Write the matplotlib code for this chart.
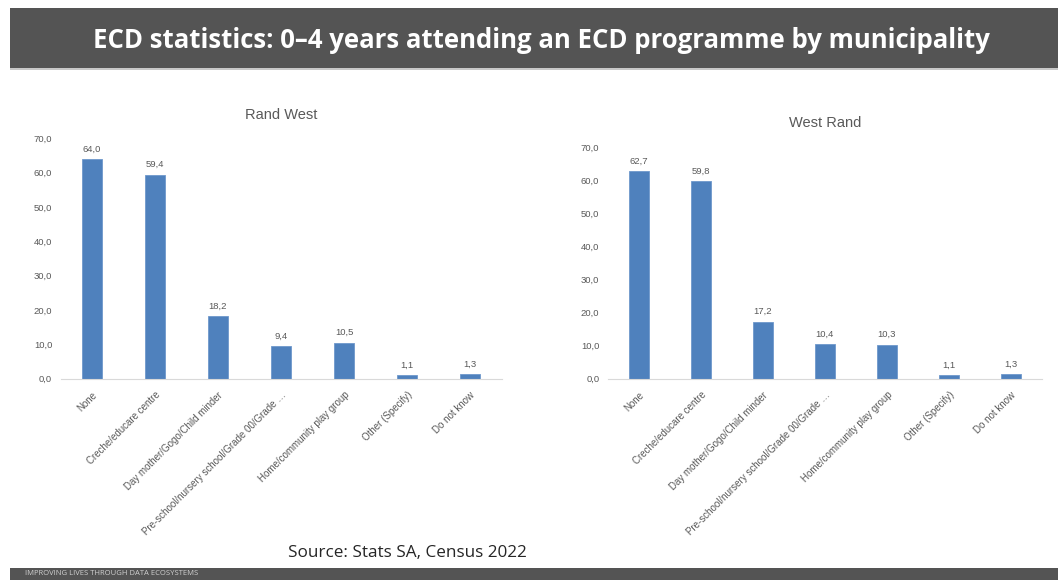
import matplotlib
matplotlib.use("Agg")
import matplotlib.pyplot as plt
from matplotlib.patches import Rectangle

categories = [
    "None",
    "Creche/educare centre",
    "Day mother/Gogo/Child minder",
    "Pre-school/nursery school/Grade 00/Grade …",
    "Home/community play group",
    "Other (Specify)",
    "Do not know",
]
rand_west = [64.0, 59.4, 18.2, 9.4, 10.5, 1.1, 1.3]
west_rand = [62.7, 59.8, 17.2, 10.4, 10.3, 1.1, 1.3]
y_ticks = [0, 10, 20, 30, 40, 50, 60, 70]

BLUE = "#4F81BD"
GREY_TXT = "#595959"
BANNER = "#545454"
CHART_FONT = ["Liberation Sans", "DejaVu Sans"]

W, H = 1058, 580
fig = plt.figure(figsize=(W / 100, H / 100), dpi=100)
fig.patch.set_facecolor("white")


def px(x0, y0, x1, y1):
    """pixel box (top-left origin) -> figure fraction rect"""
    return [x0 / W, 1 - y1 / H, (x1 - x0) / W, (y1 - y0) / H]


# top banner
fig.patches.append(Rectangle((10 / W, 1 - 68 / H), 1, 60 / H, transform=fig.transFigure,
                             facecolor=BANNER, edgecolor="none", zorder=0))
fig.patches.append(Rectangle((10 / W, 1 - 70 / H), 1, 2 / H, transform=fig.transFigure,
                             facecolor="#C8C8C8", edgecolor="none", zorder=0))
fig.text(541 / W, 1 - 40 / H, "ECD statistics: 0–4 years attending an ECD programme by municipality",
         ha="center", va="center", color="white", fontsize=18.5, fontweight="bold",
         family=["Open Sans", "DejaVu Sans"])

# bottom banner
fig.patches.append(Rectangle((10 / W, 0), 1, 12 / H, transform=fig.transFigure,
                             facecolor=BANNER, edgecolor="none", zorder=0))
fig.text(25 / W, 3 / H, "IMPROVING LIVES THROUGH DATA ECOSYSTEMS", ha="left", va="bottom",
         color="#D0D0D0", fontsize=5.5, family=["Open Sans", "DejaVu Sans"])

fig.text(407 / W, 1 - 553 / H, "Source: Stats SA, Census 2022", ha="center", va="center",
         color="#262626", fontsize=12.3, family=["Open Sans", "DejaVu Sans"])


def draw(rect, values, title, title_y):
    ax = fig.add_axes(rect)
    x = range(len(categories))
    ax.bar(x, values, width=0.32, color=BLUE, edgecolor="#6E98CC", linewidth=0.6)
    ax.set_ylim(0, 70)
    ax.set_xlim(-0.5, len(categories) - 0.5)
    ax.set_yticks(y_ticks)
    ax.set_yticklabels([f"{v:.1f}".replace(".", ",") for v in y_ticks],
                       fontsize=6.8, color=GREY_TXT, family=CHART_FONT)
    ax.set_xticks(list(x))
    ax.set_xticklabels(categories, rotation=45, ha="right", rotation_mode="anchor",
                       fontsize=7, color=GREY_TXT, family=CHART_FONT)
    ax.tick_params(axis="both", length=0)
    ax.tick_params(axis="x", pad=8)
    ax.tick_params(axis="y", pad=6)
    for s in ["top", "right", "left"]:
        ax.spines[s].set_visible(False)
    ax.spines["bottom"].set_color("#D9D9D9")
    ax.spines["bottom"].set_linewidth(0.8)
    for i, v in enumerate(values):
        ax.annotate(f"{v:.1f}".replace(".", ","), (i, v), xytext=(0, 4),
                    textcoords="offset points", ha="center", va="bottom",
                    fontsize=6.8, color=GREY_TXT, family=CHART_FONT)
    fig.text((rect[0] + rect[2] / 2), 1 - title_y / H, title, ha="center", va="center",
             fontsize=10.5, color=GREY_TXT, family=CHART_FONT)
    return ax


draw(px(60.5, 138.3, 501.5, 378.7), rand_west, "Rand West", 115)
draw(px(607.7, 147.3, 1042, 378.7), west_rand, "West Rand", 123)

fig.savefig("out.png", dpi=100)
